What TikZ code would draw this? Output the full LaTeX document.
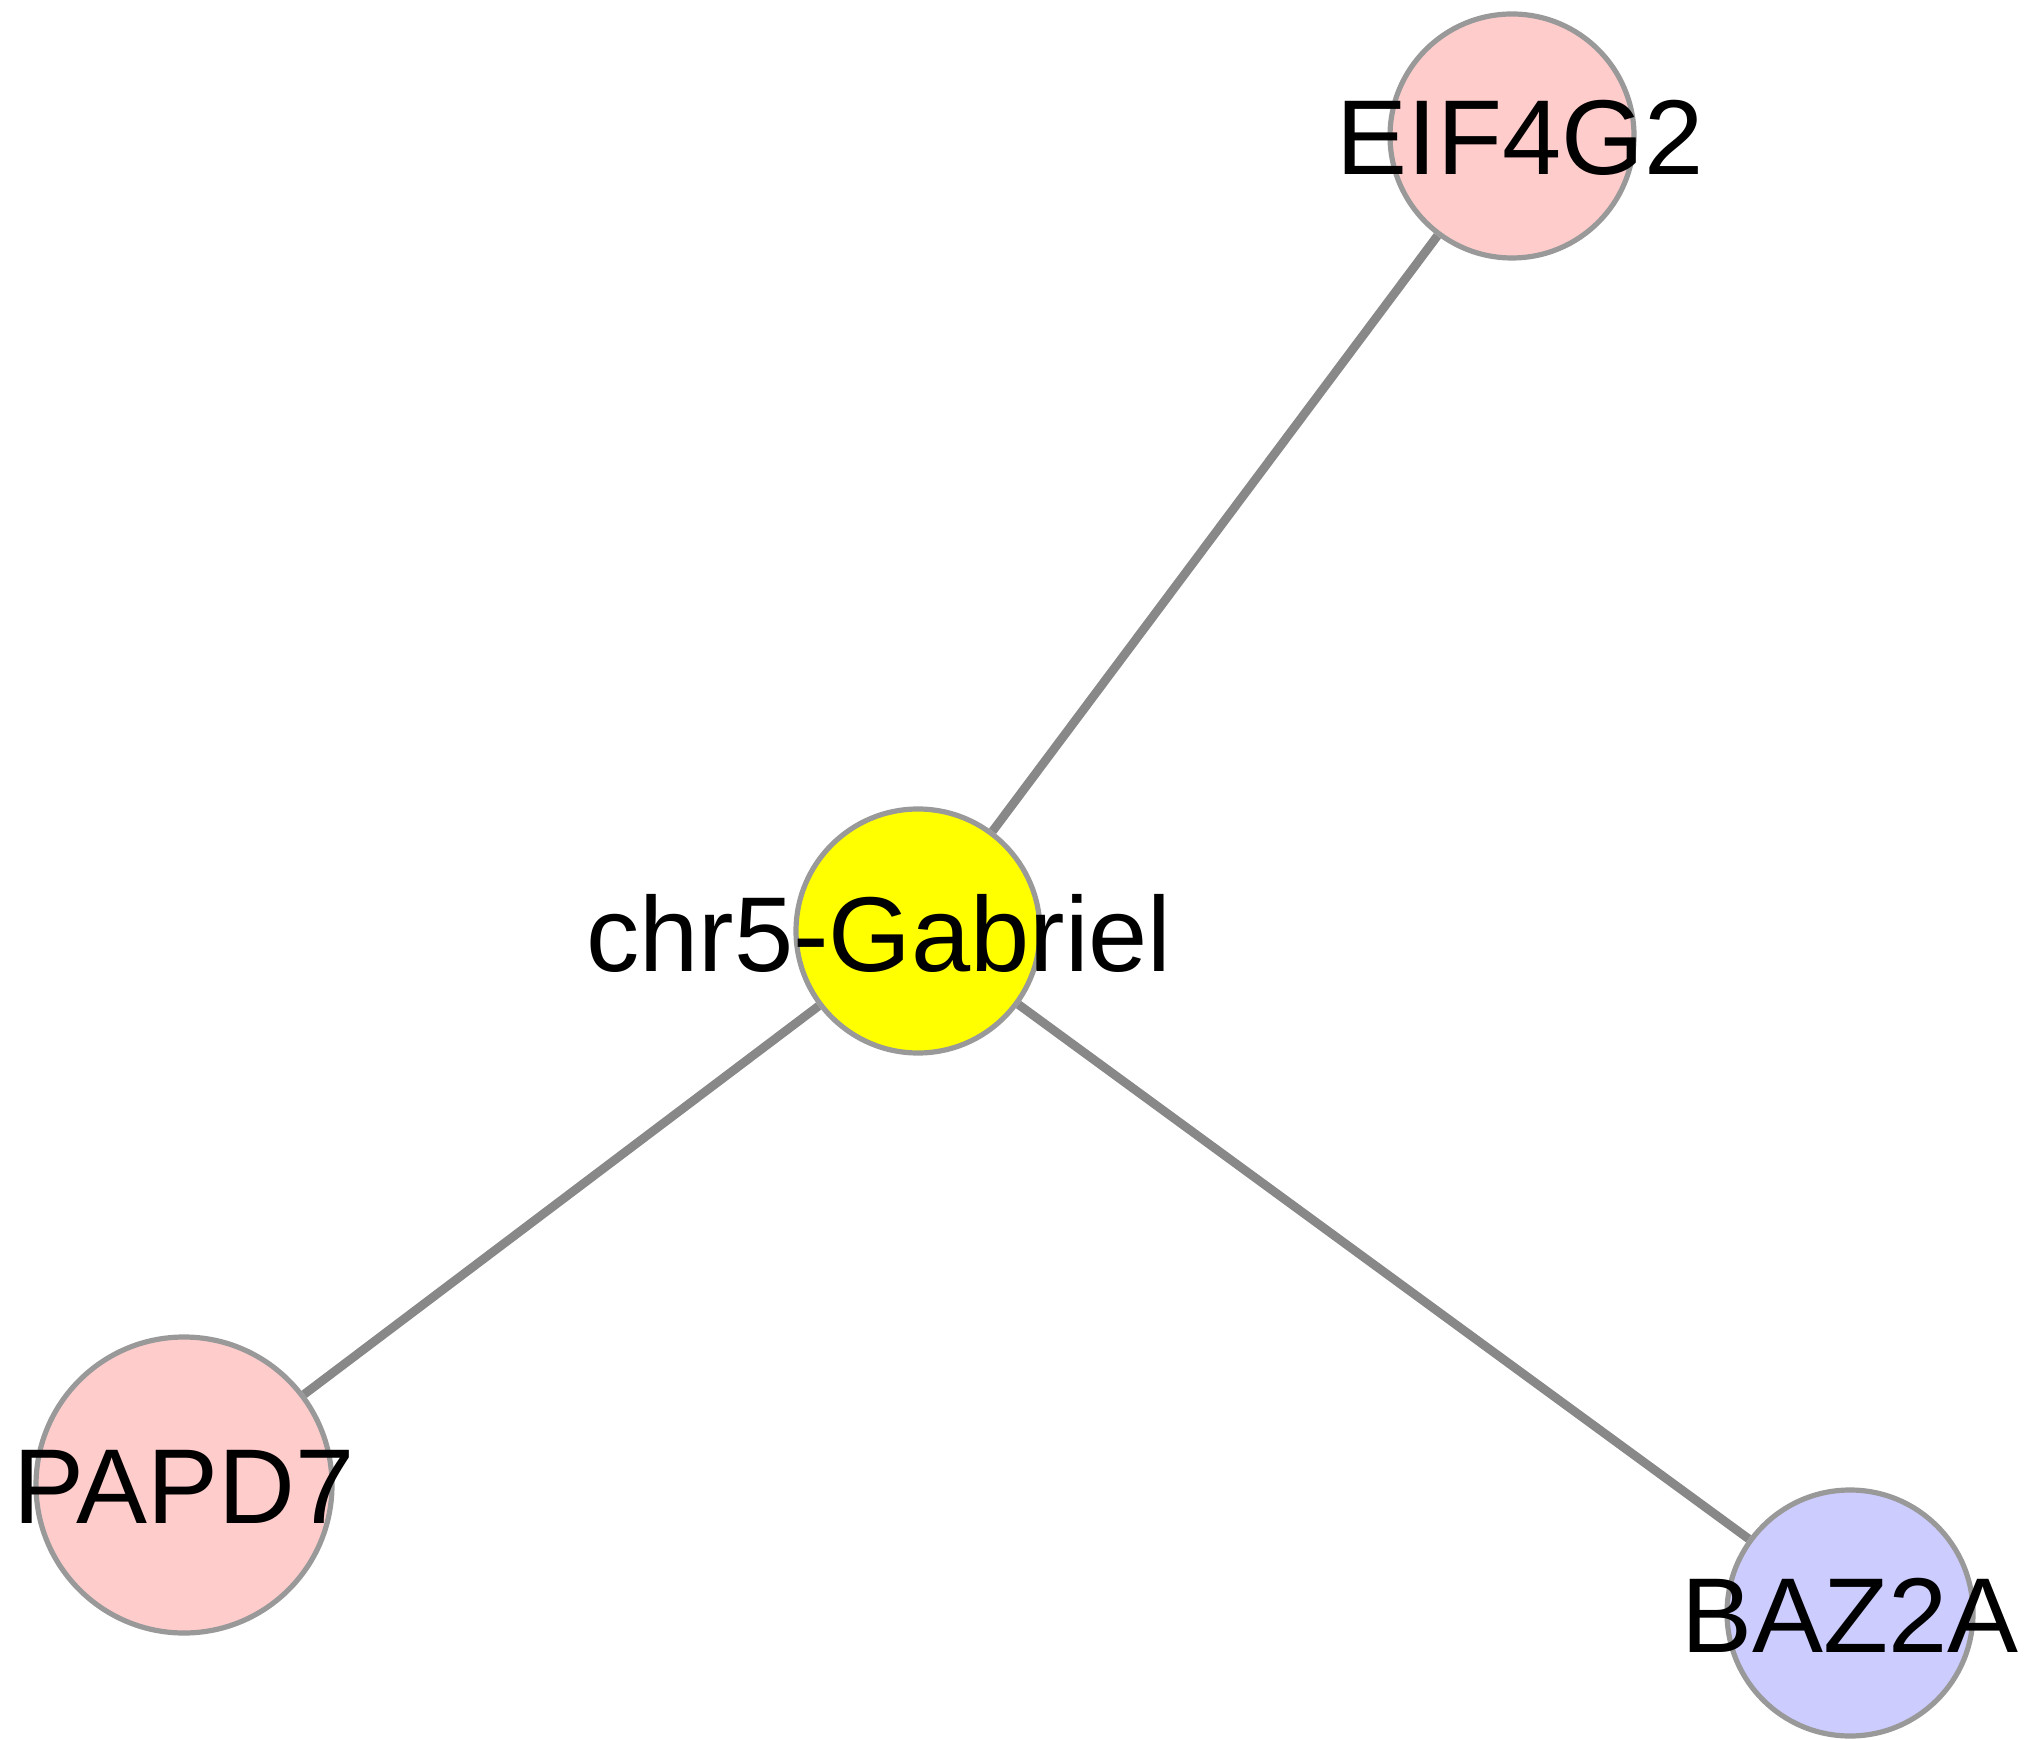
\documentclass[tikz,border=0pt]{standalone}
\usepackage{fontspec}
\setmainfont{Liberation Sans}
\usetikzlibrary{positioning}

\definecolor{linkgray}{HTML}{888888}
\definecolor{rimgray}{HTML}{999999}
\definecolor{genepink}{HTML}{FFCCCC}
\definecolor{geneblue}{HTML}{CCCCFF}
\definecolor{hubyellow}{HTML}{FFFF00}

\begin{document}
\begin{tikzpicture}[x=0.25pt, y=-0.25pt,
        font=\fontsize{26.6}{30}\selectfont,
        gene/.style={circle, draw=rimgray, line width=1.3pt, inner sep=0pt, minimum size=61pt},
        link/.style={draw=linkgray, line width=2.2pt}]
            \useasboundingbox (0,0) rectangle (2030,1740);

            \node (g0) [gene, fill=hubyellow, label={[xshift=-9.75pt, yshift=-0.5pt]center:chr5-Gabriel}] at (918,931) {};
            \node (g1) [gene, fill=genepink, label={[xshift=2pt, yshift=-0.5pt]center:EIF4G2}] at (1512,136) {};
            \node (g2) [gene, fill=genepink, minimum size=74pt, label={[yshift=-0.5pt]center:PAPD7}] at (184,1485) {};
            \node (g3) [gene, fill=geneblue, minimum size=61.5pt, label={[yshift=-0.5pt]center:BAZ2A}] at (1850,1613) {};

            \path[link]
            (g0) edge (g1)
            (g0) edge (g2)
            (g0) edge (g3);
        \end{tikzpicture}
\end{document}
